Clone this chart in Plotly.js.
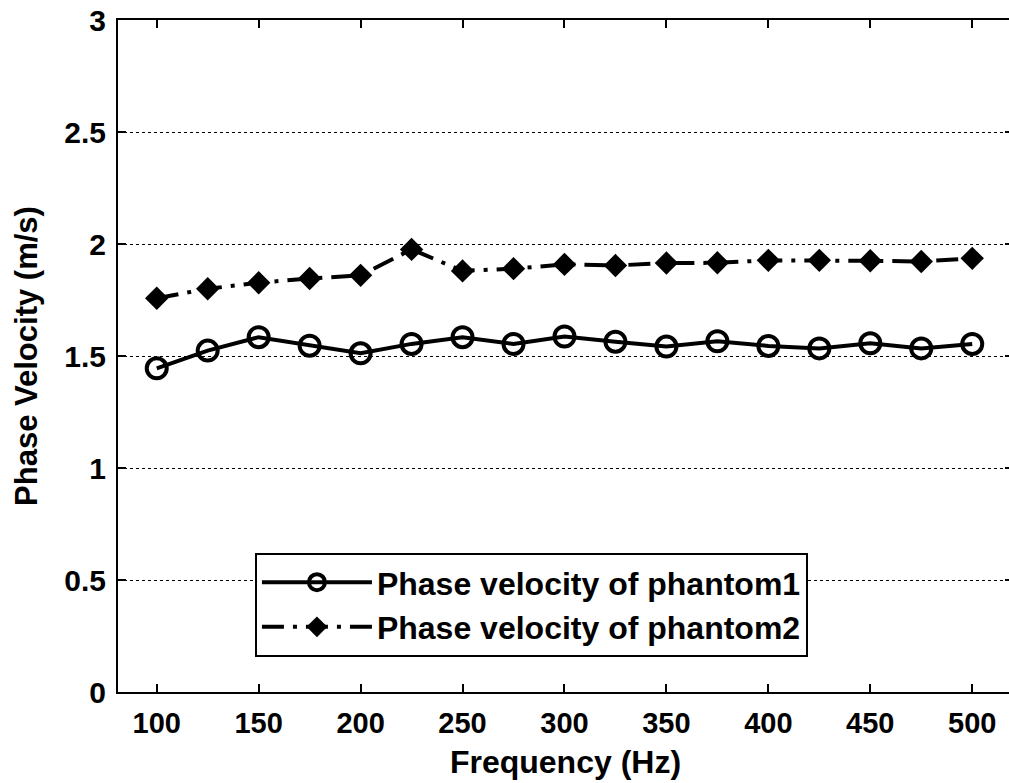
<!DOCTYPE html>
<html>
<head>
<meta charset="utf-8">
<script src="https://cdn.plot.ly/plotly-3.0.1.min.js"></script>
<style>
html,body{margin:0;padding:0;overflow:hidden;background:#fff;}
#chart{width:1020px;height:783px;}
</style>
</head>
<body>
<div id="chart"></div>
<script>
var frequency = [100,125,150,175,200,225,250,275,300,325,350,375,400,425,450,475,500];
var phantom1 = [1.445,1.524,1.584,1.546,1.512,1.554,1.584,1.554,1.587,1.564,1.542,1.566,1.545,1.534,1.557,1.534,1.554];
var phantom2 = [1.758,1.80,1.827,1.846,1.86,1.976,1.88,1.89,1.909,1.904,1.915,1.916,1.927,1.927,1.925,1.922,1.936];
var xTicks = [100,150,200,250,300,350,400,450,500];
var yTicks = [0,0.5,1,1.5,2,2.5,3];
var yTickText = ['0','0.5','1','1.5','2','2.5','3'];

var FONT = 'Liberation Sans, Arial, Helvetica, sans-serif';

var traces = [
  {
    x: frequency, y: phantom1, name: 'Phase velocity of phantom1',
    mode: 'lines+markers', type: 'scatter',
    line: {color: '#000', width: 4},
    marker: {symbol: 'circle-open', size: 20, color: '#000', line: {width: 4, color: '#000'}}
  },
  {
    x: frequency, y: phantom2, name: 'Phase velocity of phantom2',
    mode: 'lines+markers', type: 'scatter',
    line: {color: '#000', width: 4, dash: '22px,9px,4px,9px'},
    marker: {symbol: 'diamond', size: 18, color: '#000'}
  }
];

var layout = {
  width: 1020, height: 783,
  margin: {l: 118, r: 7, t: 20, b: 91},
  paper_bgcolor: '#fff', plot_bgcolor: '#fff',
  showlegend: true,
  legend: {
    x: 0.153, y: 0.207, xanchor: 'left', yanchor: 'top',
    bgcolor: '#fff', bordercolor: '#000', borderwidth: 2,
    font: {family: FONT, size: 32, color: '#000', weight: 'bold'},
    itemwidth: 110,
    tracegroupgap: 0
  },
  xaxis: {
    range: [81, 520],
    tickvals: xTicks,
    ticktext: xTicks.map(String),
    ticks: 'inside', ticklen: 8, tickwidth: 2, tickcolor: '#000',
    showline: true, linewidth: 2, linecolor: '#000', mirror: 'ticks',
    showgrid: false, zeroline: false,
    ticklabelstandoff: 4,
    tickfont: {family: FONT, size: 29, color: '#000', weight: 'bold'},
    title: {text: 'Frequency (Hz)', standoff: 13,
      font: {family: FONT, size: 32, color: '#000', weight: 'bold'}}
  },
  yaxis: {
    range: [0, 3],
    tickvals: yTicks,
    ticktext: yTickText,
    ticks: 'inside', ticklen: 8, tickwidth: 2, tickcolor: '#000',
    showline: true, linewidth: 2, linecolor: '#000', mirror: 'ticks',
    showgrid: true, gridcolor: '#000', gridwidth: 1, griddash: 'dot',
    zeroline: false,
    ticklabelstandoff: 4,
    tickfont: {family: FONT, size: 30, color: '#000', weight: 'bold'},
    title: {text: 'Phase Velocity (m/s)', standoff: 17,
      font: {family: FONT, size: 31, color: '#000', weight: 'bold'}}
  }
};

Plotly.newPlot('chart', traces, layout, {displayModeBar: false, staticPlot: true});
</script>
</body>
</html>
